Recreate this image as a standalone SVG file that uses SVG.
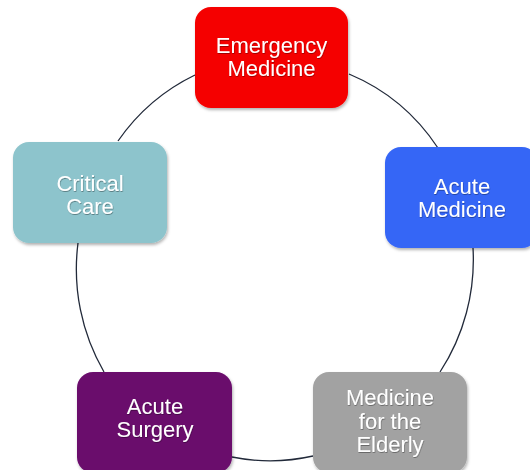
<svg xmlns="http://www.w3.org/2000/svg" width="530" height="470" viewBox="0 0 530 470">
<defs>
<filter id="sh" x="-10%" y="-10%" width="125%" height="130%">
<feDropShadow dx="1" dy="2" stdDeviation="1.5" flood-color="#000" flood-opacity="0.3"/>
</filter>
<filter id="ts" x="-10%" y="-20%" width="120%" height="140%">
<feDropShadow dx="0.5" dy="1" stdDeviation="0.6" flood-color="#000" flood-opacity="0.35"/>
</filter>
</defs>
<style>
.box{filter:url(#sh);}
.lbl{font-family:"Liberation Sans",Arial,sans-serif;font-size:22px;fill:#ffffff;text-anchor:middle;filter:url(#ts);}
.arc{fill:none;stroke:#222a3a;stroke-width:1.3;}
</style>
<g id="connectors">
<path class="arc" d="M 349 74 A 198 202 0 0 1 438 148"/>
<path class="arc" d="M 473 248 A 198 202 0 0 1 440 372"/>
<path class="arc" d="M 313 456 A 198 202 0 0 1 232 457"/>
<path class="arc" d="M 104 372 A 198 202 0 0 1 78 243"/>
<path class="arc" d="M 118 141 A 198 202 0 0 1 195 75"/>
</g>
<g id="emergency-medicine">
<rect class="box" x="195" y="7" width="153" height="101" rx="16" fill="#f50000"/>
<text class="lbl" x="271.5" y="52.5">Emergency</text>
<text class="lbl" x="271.5" y="75.5">Medicine</text>
</g>
<g id="acute-medicine">
<rect class="box" x="385" y="147" width="153" height="101" rx="16" fill="#3666f6"/>
<text class="lbl" x="462" y="194">Acute</text>
<text class="lbl" x="462" y="217">Medicine</text>
</g>
<g id="critical-care">
<rect class="box" x="13" y="142" width="154" height="101" rx="16" fill="#8dc4cc"/>
<text class="lbl" x="90" y="191">Critical</text>
<text class="lbl" x="90" y="214">Care</text>
</g>
<g id="acute-surgery">
<rect class="box" x="77" y="372" width="155" height="101" rx="16" fill="#6a0a6c"/>
<text class="lbl" x="155" y="414">Acute</text>
<text class="lbl" x="155" y="437">Surgery</text>
</g>
<g id="medicine-for-the-elderly">
<rect class="box" x="313" y="372" width="154" height="101" rx="16" fill="#a2a2a2"/>
<text class="lbl" x="390" y="405">Medicine</text>
<text class="lbl" x="390" y="428.5">for the</text>
<text class="lbl" x="390" y="452">Elderly</text>
</g>
</svg>
